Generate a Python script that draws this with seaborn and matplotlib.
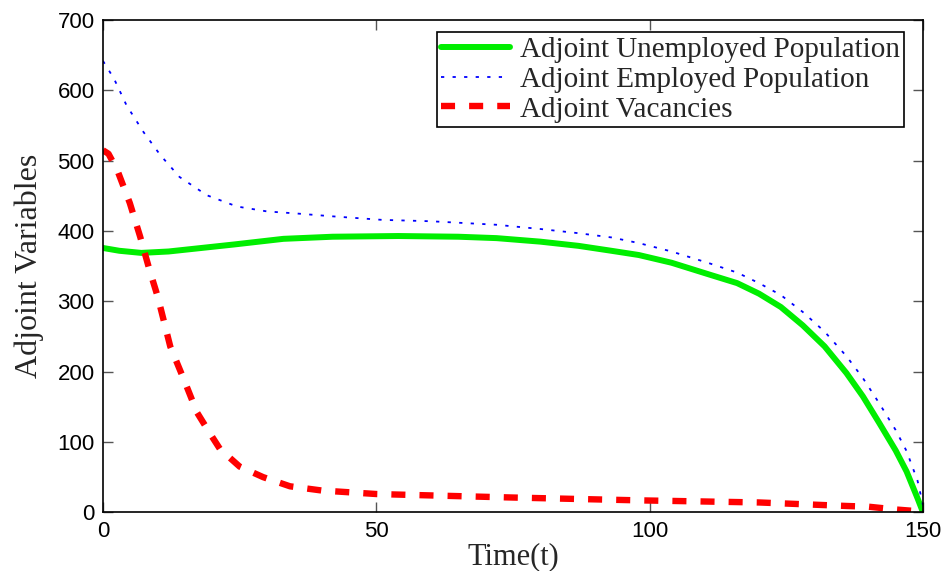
import numpy as np
import pandas as pd
import matplotlib
matplotlib.use("Agg")
import matplotlib.pyplot as plt
import seaborn as sns

# ---- data ----
t_unemp = [0, 3, 7, 12, 18, 24, 33, 42, 54, 65, 72, 80, 87, 93, 98, 104, 111, 116, 120, 124, 128, 132, 136, 139, 142, 145, 147, 149, 150]
v_unemp = [376, 372, 369, 371, 376, 381, 389, 392, 393, 392, 390, 385, 379, 372, 366, 355, 338, 326, 311, 292, 266, 236, 198, 165, 127, 88, 58, 20, 0]

t_emp = [0, 2, 4.3, 7.4, 10.5, 14, 19, 24.5, 30, 35.5, 42, 51, 60, 72, 80, 87, 93, 98, 104, 111, 116, 120, 124, 128, 132, 136, 139, 142, 145, 147, 149, 150]
v_emp = [642, 617, 579, 541, 508, 477, 451, 435, 428, 425, 421, 416, 414, 409, 403, 397, 391, 383, 371, 354, 341, 326, 309, 285, 257, 222, 191, 155, 117, 87, 45, 10]

t_vac = [0, 1, 2.6, 4.9, 6.8, 8.5, 10, 12.3, 15, 17.2, 19.5, 21.4, 25, 29.3, 34.2, 40, 50, 60, 75, 98, 120, 136, 140, 145, 150]
v_vac = [515, 510, 487, 440, 392, 345, 307, 236, 185, 142, 113, 90, 65, 50, 37, 31, 26, 24, 21, 17, 14, 9, 8, 4, 1]

labels = ["Adjoint Unemployed Population", "Adjoint Employed Population", "Adjoint Vacancies"]
x_ticks = [0, 50, 100, 150]
y_ticks = [0, 100, 200, 300, 400, 500, 600, 700]

sns.set_theme(style="white")
plt.rcParams["font.family"] = ["Liberation Sans", "DejaVu Sans"]

fig = plt.figure(figsize=(9.46, 5.71), dpi=100)
ax = fig.add_axes([103 / 946, 1 - 512.3 / 571, 820 / 946, 492.1 / 571])

sns.lineplot(x=t_unemp, y=v_unemp, ax=ax, color="#00ee00", linewidth=4.3,
             label=labels[0], sort=False)
sns.lineplot(x=t_emp, y=v_emp, ax=ax, color="#0000ff", linewidth=1.3,
             label=labels[1], sort=False)
sns.lineplot(x=t_vac, y=v_vac, ax=ax, color="#ff0000", linewidth=4.6,
             label=labels[2], sort=False)

lines = ax.get_lines()
lines[1].set_linestyle((0, (1.8, 4.6)))
lines[2].set_linestyle((0, (2.2, 2.2)))

ax.set_xlim(0, 150)
ax.set_ylim(0, 700)
ax.set_xticks(x_ticks)
ax.set_yticks(y_ticks)
ax.tick_params(direction="in", length=7, width=1, colors="#555555",
               labelcolor="black", labelsize=16, top=True, right=True,
               bottom=True, left=True, pad=6)
for sp in ax.spines.values():
    sp.set_visible(True)
    sp.set_color("black")
    sp.set_linewidth(1.2)

serif = ["Liberation Serif", "DejaVu Serif"]
ax.set_xlabel("Time(t)", fontsize=22, family=serif)
ax.xaxis.set_label_coords(0.5006, -0.060)
ax.set_ylabel("Adjoint Variables", fontsize=23, family=serif, labelpad=10)

leg = ax.legend(loc="upper right", bbox_to_anchor=(0.977, 0.976),
                borderaxespad=0, prop={"family": serif, "size": 21},
                frameon=True, fancybox=False, handlelength=2.35,
                handletextpad=0.35, labelspacing=0.12, borderpad=0.15)
leg.get_frame().set_edgecolor("black")
leg.get_frame().set_linewidth(1.2)
leg.get_frame().set_alpha(1)

fig.savefig("out.png", dpi=100)
